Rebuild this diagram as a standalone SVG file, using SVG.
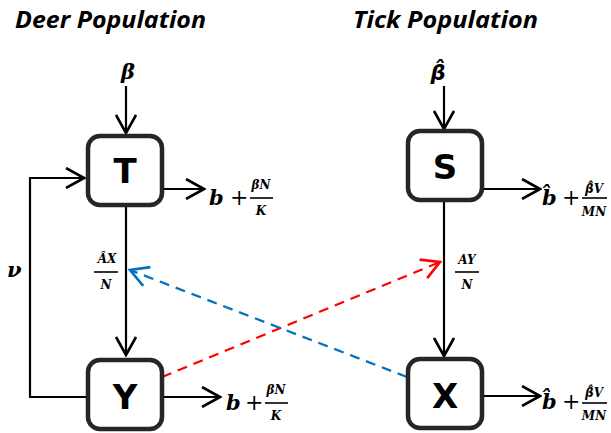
<svg xmlns="http://www.w3.org/2000/svg" width="611" height="433" viewBox="0 0 611 433">
<defs>
<marker id="ak" viewBox="0 0 22 22" refX="20" refY="11" markerWidth="22" markerHeight="22" markerUnits="userSpaceOnUse" orient="auto">
<path d="M2,1 L20,11 L2,21" fill="none" stroke="#000" stroke-width="2.6"/>
</marker>
<marker id="ar" viewBox="0 0 22 22" refX="20" refY="11" markerWidth="22" markerHeight="22" markerUnits="userSpaceOnUse" orient="auto">
<path d="M2,1 L20,11 L2,21" fill="none" stroke="#ff0000" stroke-width="2.6"/>
</marker>
<marker id="ab" viewBox="0 0 22 22" refX="20" refY="11" markerWidth="22" markerHeight="22" markerUnits="userSpaceOnUse" orient="auto">
<path d="M2,1 L20,11 L2,21" fill="none" stroke="#0070c0" stroke-width="2.6"/>
</marker>
</defs>
<style>
.title{font-family:"Open Sans","DejaVu Sans",sans-serif;font-weight:bold;font-style:italic;font-size:23px;fill:#000}
.box{fill:#fff;stroke:#262626;stroke-width:4.5}
.lbl{font-family:"DejaVu Sans",sans-serif;font-weight:bold;font-size:34px;fill:#000;text-anchor:middle}
.m{font-family:"DejaVu Serif",serif;font-weight:bold;font-style:italic;fill:#000}
.ms{font-family:"DejaVu Sans",sans-serif;font-weight:bold;font-style:italic;fill:#000}
.big{font-size:21px}
.sm{font-size:12px;text-anchor:middle}
.op{font-family:"DejaVu Serif",serif;font-size:22px;fill:#000}
.fl{stroke:#000;stroke-width:1.6}
.c{fill:none;stroke:#000;stroke-width:2.2}
.red{fill:none;stroke:#ff0000;stroke-width:2.2;stroke-dasharray:10 7}
.blue{fill:none;stroke:#0070c0;stroke-width:2.2;stroke-dasharray:10 7}
</style>
<rect width="611" height="433" fill="#fff"/>
<text class="title" x="15" y="28" textLength="191" lengthAdjust="spacingAndGlyphs">Deer Population</text>
<text class="title" x="353" y="28" textLength="185" lengthAdjust="spacingAndGlyphs">Tick Population</text>

<g id="connectors">
<path class="c" d="M126,86 V133" marker-end="url(#ak)"/>
<path class="c" d="M444,86 V129" marker-end="url(#ak)"/>
<path class="c" d="M126,205 V355" marker-end="url(#ak)"/>
<path class="c" d="M444,202 V356" marker-end="url(#ak)"/>
<path class="c" d="M86,397 H30 V178 H84" marker-end="url(#ak)"/>
<path class="c" d="M164,189 H204" marker-end="url(#ak)"/>
<path class="c" d="M483,189 H540" marker-end="url(#ak)"/>
<path class="c" d="M164,397 H220" marker-end="url(#ak)"/>
<path class="c" d="M483,396 H540" marker-end="url(#ak)"/>
<path class="red" d="M162,377 L440,262" marker-end="url(#ar)"/>
<path class="blue" d="M407,377 L130,270" marker-end="url(#ab)"/>
</g>

<g id="T"><rect class="box" x="88" y="136" width="74" height="69" rx="12"/><text class="lbl" x="125" y="183">T</text></g>
<g id="S"><rect class="box" x="408" y="131" width="74" height="69" rx="12"/><text class="lbl" x="445" y="179">S</text></g>
<g id="Y"><rect class="box" x="88" y="360" width="74" height="69" rx="12"/><text class="lbl" x="125" y="409">Y</text></g>
<g id="X"><rect class="box" x="408" y="359" width="74" height="69" rx="12"/><text class="lbl" x="445" y="408">X</text></g>

<g id="labels">
<text class="m big" x="128" y="79" text-anchor="middle">β</text>
<text class="ms big" x="438" y="80" text-anchor="middle">β̂</text>
<text class="m big" x="7" y="277">ν</text>

<text class="m sm" x="107" y="263">ÂX</text>
<line class="fl" x1="94" y1="272" x2="118" y2="272"/>
<text class="m sm" x="106" y="289">N</text>

<text class="m sm" x="467" y="264">AY</text>
<line class="fl" x1="455" y1="272" x2="479" y2="272"/>
<text class="m sm" x="467" y="289">N</text>

<text class="m big" x="209" y="205">b</text>
<text class="op" x="230" y="205">+</text>
<line class="fl" x1="250" y1="198" x2="273" y2="198"/>
<text class="m sm" x="261" y="189">βN</text>
<text class="m sm" x="261" y="215">K</text>

<text class="m big" x="226" y="410">b</text>
<text class="op" x="245" y="410">+</text>
<line class="fl" x1="265" y1="403" x2="288" y2="403"/>
<text class="m sm" x="276" y="394">βN</text>
<text class="m sm" x="276" y="420">K</text>

<text class="m big" x="542" y="205">b̂</text>
<text class="op" x="562" y="205">+</text>
<line class="fl" x1="582" y1="198" x2="607" y2="198"/>
<text class="ms sm" x="594" y="193">β̂<tspan class="m">V</tspan></text>
<text class="m sm" x="594" y="216">MN</text>

<text class="m big" x="542" y="409">b̂</text>
<text class="op" x="562" y="409">+</text>
<line class="fl" x1="582" y1="403" x2="607" y2="403"/>
<text class="ms sm" x="594" y="397">β̂<tspan class="m">V</tspan></text>
<text class="m sm" x="594" y="420">MN</text>
</g>
</svg>
